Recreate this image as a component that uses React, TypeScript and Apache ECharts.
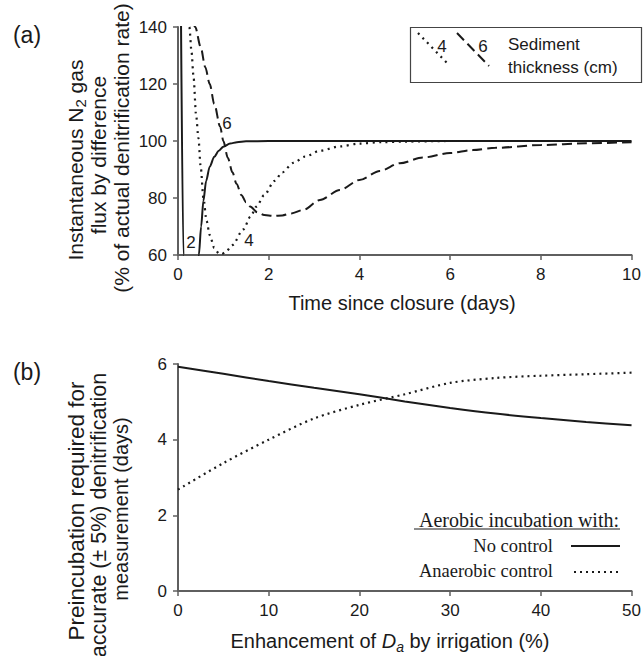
import React, { useEffect, useRef } from 'react';
import * as echarts from 'echarts';

// Panel (a): instantaneous N2 flux by difference (% of actual rate) vs time (days)
const time2cm = [0.06, 0.12, 0.2, 0.35, 0.46, 0.51, 0.56, 0.62, 0.7, 0.8, 0.9, 1.0, 1.15, 1.3, 1.5, 2, 4, 6, 8, 10];
const flux2cm = [156, 60, 20, 40, 60, 70, 79, 86, 91, 94.5, 96.6, 98, 99.1, 99.6, 99.9, 100, 100, 100, 100, 100];

const time4cm = [0.2, 0.25, 0.3, 0.34, 0.4, 0.45, 0.5, 0.56, 0.63, 0.7, 0.8, 0.9, 0.96, 1.05, 1.2, 1.44, 1.6, 1.73, 1.9, 2.13, 2.3, 2.54, 2.8, 3.13, 3.57, 4, 4.5, 5, 6, 8, 10];
const flux4cm = [149, 140, 131, 123, 109, 101, 91, 80, 72, 67, 62.5, 60.6, 60.3, 61, 63.5, 69, 73.5, 77, 81, 86, 89, 92.3, 94.5, 96.6, 98.1, 99.1, 99.6, 99.8, 100, 100, 100];

const time6cm = [0.2, 0.38, 0.5, 0.6, 0.7, 0.8, 0.93, 1.0, 1.1, 1.2, 1.29, 1.4, 1.5, 1.59, 1.75, 1.9, 2.1, 2.3, 2.5, 2.76, 3.13, 3.57, 4.0, 4.45, 4.89, 5.4, 6, 6.5, 7, 8, 9, 10];
const flux6cm = [152, 140, 133, 126, 120, 113, 105, 100, 94, 89, 85, 81, 78.5, 77, 75, 74, 73.7, 73.9, 74.6, 75.8, 79.3, 82.8, 86.3, 89.5, 92.2, 94.2, 95.8, 96.8, 97.6, 98.6, 99.2, 99.6];

// Panel (b): preincubation required (days) vs enhancement of Da by irrigation (%)
const enhancement = [0, 5, 10, 15, 20, 25, 30, 35, 40, 45, 50];
const noControl = [5.93, 5.74, 5.55, 5.37, 5.2, 5.01, 4.84, 4.69, 4.57, 4.47, 4.38];
const anaerobicControl = [2.68, 3.38, 4.0, 4.56, 4.92, 5.2, 5.5, 5.63, 5.69, 5.73, 5.77];

const thicknessLabels = ['2', '4', '6'];

const SANS = '"Liberation Sans", Arial, Helvetica, sans-serif';
const SERIF = '"Liberation Serif", "Times New Roman", serif';
const INK = '#1a1a1a';
const AXIS = '#5f5f5f';

const zip = (xs: number[], ys: number[]) => xs.map((x, i) => [x, ys[i]]);

function txt(x: number, y: number, text: string, opts: any = {}) {
  const { align = 'center', vAlign = 'middle', size = 17, family = SANS, rotation = 0, rich } = opts;
  return {
    type: 'text',
    x,
    y,
    rotation,
    silent: true,
    z: 10,
    style: {
      text,
      fill: INK,
      fontSize: size,
      fontFamily: family,
      align,
      textAlign: align,
      verticalAlign: vAlign,
      textVerticalAlign: vAlign,
      rich,
    },
  };
}

function ln(x1: number, y1: number, x2: number, y2: number, dash?: number[], width = 2) {
  return {
    type: 'line',
    silent: true,
    z: 10,
    shape: { x1, y1, x2, y2 },
    style: { stroke: INK, lineWidth: width, lineDash: dash, lineCap: 'butt' },
  };
}

export default function App() {
  const ref = useRef<HTMLDivElement>(null);

  useEffect(() => {
    if (!ref.current) return;
    const chart = echarts.init(ref.current, undefined, { renderer: 'svg' });

    const axisCommon = {
      axisLine: { show: true, onZero: false, lineStyle: { color: AXIS, width: 2 } },
      axisTick: { show: true, inside: false, length: 5, lineStyle: { color: AXIS, width: 1.5 } },
      axisLabel: { color: INK, fontSize: 17, fontFamily: SANS, margin: 11 },
      splitLine: { show: false },
    };

    const rotY = Math.PI / 2;
    const titleRichA = {
      a: { fontSize: 21, fontFamily: SANS, color: INK, lineHeight: 26 },
      s: { fontSize: 15, fontFamily: SANS, color: INK, lineHeight: 16, verticalAlign: 'bottom' },
    };
    const titleRichB = {
      a: { fontSize: 20, fontFamily: SANS, color: INK, lineHeight: 26 },
      i: { fontSize: 20, fontFamily: SANS, fontStyle: 'italic', color: INK, lineHeight: 26 },
      s: { fontSize: 14, fontFamily: SANS, fontStyle: 'italic', color: INK, lineHeight: 16, verticalAlign: 'bottom' },
    };

    const option: any = {
      animation: false,
      backgroundColor: '#ffffff',
      grid: [
        { left: 178, top: 27, width: 454, height: 228 },
        { left: 178, top: 364, width: 454, height: 227 },
      ],
      xAxis: [
        { ...axisCommon, type: 'value', gridIndex: 0, min: 0, max: 10, interval: 2 },
        { ...axisCommon, type: 'value', gridIndex: 1, min: 0, max: 50, interval: 10 },
      ],
      yAxis: [
        { ...axisCommon, type: 'value', gridIndex: 0, min: 60, max: 140, interval: 20 },
        { ...axisCommon, type: 'value', gridIndex: 1, min: 0, max: 6, interval: 2 },
      ],
      series: [
        {
          name: '2 cm', type: 'line', xAxisIndex: 0, yAxisIndex: 0, showSymbol: false,
          smooth: 0.3, smoothMonotone: 'x', clip: true,
          data: zip(time2cm, flux2cm),
          lineStyle: { color: INK, width: 2 },
        },
        {
          name: '4 cm', type: 'line', xAxisIndex: 0, yAxisIndex: 0, showSymbol: false,
          smooth: 0.3, smoothMonotone: 'x', clip: true,
          data: zip(time4cm, flux4cm),
          lineStyle: { color: INK, width: 2.2, type: [2, 4.5], cap: 'butt' },
        },
        {
          name: '6 cm', type: 'line', xAxisIndex: 0, yAxisIndex: 0, showSymbol: false,
          smooth: 0.3, smoothMonotone: 'x', clip: true,
          data: zip(time6cm, flux6cm),
          lineStyle: { color: INK, width: 2, type: [10, 5] },
        },
        {
          name: 'No control', type: 'line', xAxisIndex: 1, yAxisIndex: 1, showSymbol: false,
          smooth: 0.3, clip: true,
          data: zip(enhancement, noControl),
          lineStyle: { color: INK, width: 2 },
        },
        {
          name: 'Anaerobic control', type: 'line', xAxisIndex: 1, yAxisIndex: 1, showSymbol: false,
          smooth: 0.3, clip: true,
          data: zip(enhancement, anaerobicControl),
          lineStyle: { color: INK, width: 2.2, type: [2, 4] },
        },
      ],
      graphic: [
        txt(27, 35, '(a)', { size: 23 }),
        txt(27, 372, '(b)', { size: 23 }),
        // panel (a) y title
        txt(75, 160, '{a|Instantaneous N}{s|2}{a| gas}', { rotation: rotY, rich: titleRichA }),
        txt(98, 155, 'flux by difference', { size: 21, rotation: rotY }),
        txt(121, 148, '(% of actual denitrification rate)', { size: 21, rotation: rotY }),
        // panel (b) y title
        txt(76, 511, 'Preincubation required for', { size: 22.5, rotation: rotY }),
        txt(99, 515, 'accurate (\u00b1 5%) denitrification', { size: 21.5, rotation: rotY }),
        txt(121, 509, 'measurement (days)', { size: 20, rotation: rotY }),
        // x titles
        txt(402, 303, 'Time since closure (days)', { size: 20 }),
        txt(390, 641, '{a|Enhancement of }{i|D}{s|a}{a| by irrigation (%)}', { rich: titleRichB }),
        // curve labels
        txt(191, 242, thicknessLabels[0]),
        txt(249, 240, thicknessLabels[1]),
        txt(227, 123, thicknessLabels[2]),
        // legend (a)
        {
          type: 'rect', silent: true, z: 9,
          shape: { x: 410.5, y: 27.5, width: 231, height: 55 },
          style: { fill: '#ffffff', stroke: '#444444', lineWidth: 1.2 },
        },
        ln(418, 33, 447, 63, [2, 4.5], 2.2),
        ln(457, 33, 489, 66, [10, 5], 2),
        txt(442, 46, thicknessLabels[1]),
        txt(483, 46, thicknessLabels[2]),
        txt(508, 44, 'Sediment', { align: 'left' }),
        txt(508, 67, 'thickness (cm)', { align: 'left' }),
        // legend (b)
        txt(619, 520, 'Aerobic incubation with:', { align: 'right', family: SERIF, size: 20 }),
        ln(414, 529, 620, 529, undefined, 1.2),
        txt(553, 546, 'No control', { align: 'right', family: SERIF, size: 18.5 }),
        ln(571, 546, 620, 546, undefined, 2),
        txt(553, 571, 'Anaerobic control', { align: 'right', family: SERIF, size: 18.5 }),
        ln(574, 572, 620, 572, [2, 4], 2.2),
      ],
    };

    chart.setOption(option);
    return () => chart.dispose();
  }, []);

  return (
    <div
      ref={ref}
      style={{ position: 'fixed', left: 0, top: 0, width: 644, height: 656, background: '#fff' }}
    />
  );
}
